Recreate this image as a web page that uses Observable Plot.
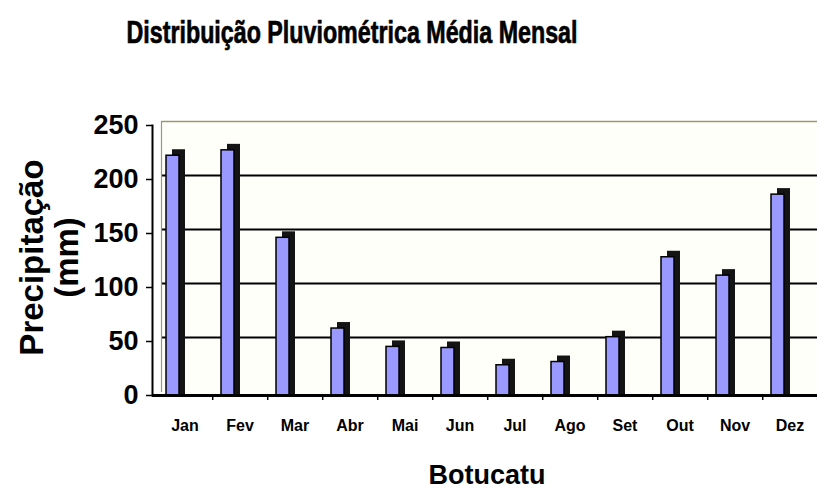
<!DOCTYPE html>
<html>
<head>
<meta charset="utf-8">
<script src="https://cdn.jsdelivr.net/npm/d3@7"></script>
<script src="https://cdn.jsdelivr.net/npm/@observablehq/plot@0.6"></script>
<style>
  html, body { margin: 0; padding: 0; background: #fff; }
  #wrap { width: 817px; height: 493px; position: relative; overflow: hidden; }
  #title { position: relative; width: 817px; height: 60px; }
  #title span {
    position: absolute; top: 16px; left: 352px;
    font-family: "Liberation Sans Narrow", "Arial Narrow", "Liberation Sans", Arial, sans-serif;
    font-weight: bold; font-size: 32px; line-height: 1; white-space: nowrap;
    transform-origin: center; color: #000; -webkit-text-stroke: 0.7px #000;
  }
</style>
</head>
<body>
<div id="wrap">
  <div id="title"><span>Distribuição Pluviométrica Média Mensal</span></div>
  <div id="chart"></div>
</div>
<script>
const months = ["Jan","Fev","Mar","Abr","Mai","Jun","Jul","Ago","Set","Out","Nov","Dez"];
const precip = [222, 227, 146, 62, 45, 44, 28, 31, 54, 128, 111, 186];
const yTicks = [0, 50, 100, 150, 200, 250];
const gridTicks = [50, 100, 150, 200];
const yLabel1 = "Precipitação";
const yLabel2 = "(mm)";
const xLabel = "Botucatu";

const data = months.map((m, i) => ({month: m, value: precip[i]}));

const W = 817, H = 433, ML = 154, MR = -2;
const step = (W - MR - ML) / months.length;
const depth = 6;   // pseudo-3D depth offset in px
const wall = {dx: 7, dy: -4}; // back wall offset in px

const chart = Plot.plot({
  width: W, height: H,
  marginTop: 65, marginBottom: 98, marginLeft: ML, marginRight: MR,
  style: {fontFamily: "'Liberation Sans', Arial, sans-serif", background: "transparent", color: "#000", overflow: "visible"},
  x: {domain: months, paddingInner: 0.765, paddingOuter: 0.3825, axis: null},
  y: {domain: [0, 250], axis: null},
  marks: [
    Plot.frame({fill: "#fffffa", stroke: null, insetLeft: wall.dx}),
    Plot.ruleY(gridTicks, {stroke: "#000", strokeWidth: 2, dx: wall.dx, dy: wall.dy}),
    Plot.ruleY([250], {stroke: "#9a9a6a", strokeWidth: 1.5, dx: wall.dx, dy: wall.dy}),
    Plot.frame({anchor: "left", stroke: "#9a9a6a", strokeWidth: 1.2, dx: wall.dx, dy: wall.dy}),
    Plot.barY(data, {x: "month", y: "value", fill: "#141414", dx: -12 + depth, dy: -depth, insetBottom: -depth}),
    Plot.barY(data, {x: "month", y: "value", fill: "#9999ff", stroke: "#000", strokeWidth: 1.5, dx: -12}),
    Plot.ruleY([0], {stroke: "#000", strokeWidth: 3, insetLeft: -2}),
    Plot.frame({anchor: "left", stroke: "#000", strokeWidth: 2, dx: -2}),
    Plot.axisY({ticks: yTicks, tickSize: 6, tickPadding: 8, dx: -2, fontSize: 27, fontWeight: "bold",
                label: null, tickFormat: d => String(d), strokeWidth: 1.5}),
    Plot.axisX({tickSize: 5, tickFormat: () => "", dx: step / 2, label: null, strokeWidth: 1.5}),
    Plot.axisX({tickSize: 0, tickPadding: 24, fontSize: 16, fontWeight: "bold", label: null}),
    Plot.text([yLabel1], {frameAnchor: "left", rotate: -90, dx: 32 - ML, dy: -3, fontSize: 33,
                          fontWeight: "bold", textAnchor: "middle", lineAnchor: "middle"}),
    Plot.text([yLabel2], {frameAnchor: "left", rotate: -90, dx: 67 - ML, dy: -3, fontSize: 33,
                          fontWeight: "bold", textAnchor: "middle", lineAnchor: "middle"}),
    Plot.text([xLabel], {frameAnchor: "bottom", dy: 80, fontSize: 27, fontWeight: "bold",
                         textAnchor: "middle", lineAnchor: "middle"})
  ]
});
document.getElementById("chart").appendChild(chart);

// fit title width to the reference's condensed lettering
const t = document.querySelector("#title span");
const w = t.getBoundingClientRect().width;
t.style.transform = `translateX(-50%) scaleX(${451 / w})`;
</script>
</body>
</html>
